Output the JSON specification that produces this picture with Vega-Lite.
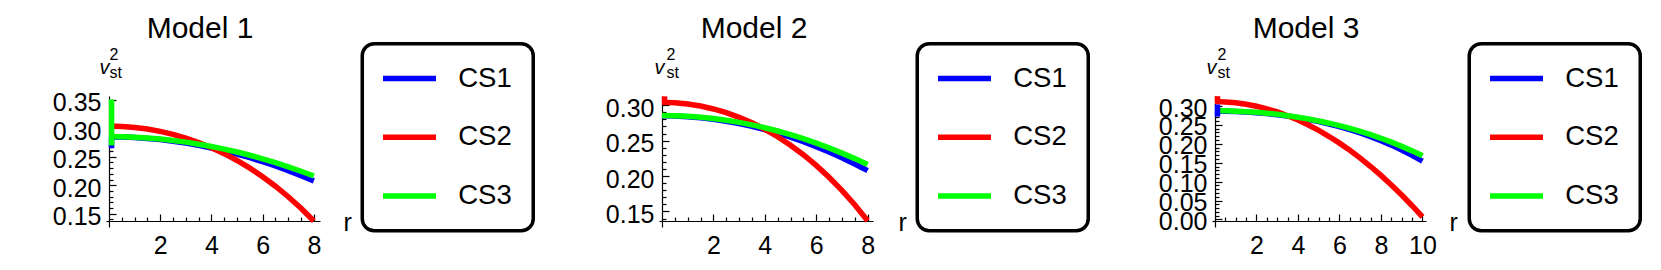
{
  "$schema": "https://vega.github.io/schema/vega-lite/v6.json",
  "background": "white",
  "padding": {"left": 52, "top": 14, "right": 5, "bottom": 5},
  "bounds": "flush",
  "spacing": 342,
  "datasets": {
    "m12": [
      {"series": "CS1", "r": 0, "v": 0.2850}, {"series": "CS1", "r": 0.5, "v": 0.2847}, {"series": "CS1", "r": 1, "v": 0.2838}, {"series": "CS1", "r": 1.5, "v": 0.2823}, {"series": "CS1", "r": 2, "v": 0.2802}, {"series": "CS1", "r": 2.5, "v": 0.2774}, {"series": "CS1", "r": 3, "v": 0.2741}, {"series": "CS1", "r": 3.5, "v": 0.2702}, {"series": "CS1", "r": 4, "v": 0.2656}, {"series": "CS1", "r": 4.5, "v": 0.2605}, {"series": "CS1", "r": 5, "v": 0.2548}, {"series": "CS1", "r": 5.5, "v": 0.2484}, {"series": "CS1", "r": 6, "v": 0.2414}, {"series": "CS1", "r": 6.5, "v": 0.2339}, {"series": "CS1", "r": 7, "v": 0.2257}, {"series": "CS1", "r": 7.5, "v": 0.2169}, {"series": "CS1", "r": 8, "v": 0.2076},
      {"series": "CS2", "r": 0, "v": 0.3040}, {"series": "CS2", "r": 0.5, "v": 0.3034}, {"series": "CS2", "r": 1, "v": 0.3017}, {"series": "CS2", "r": 1.5, "v": 0.2988}, {"series": "CS2", "r": 2, "v": 0.2947}, {"series": "CS2", "r": 2.5, "v": 0.2895}, {"series": "CS2", "r": 3, "v": 0.2829}, {"series": "CS2", "r": 3.5, "v": 0.2751}, {"series": "CS2", "r": 4, "v": 0.2660}, {"series": "CS2", "r": 4.5, "v": 0.2555}, {"series": "CS2", "r": 5, "v": 0.2435}, {"series": "CS2", "r": 5.5, "v": 0.2301}, {"series": "CS2", "r": 6, "v": 0.2150}, {"series": "CS2", "r": 6.5, "v": 0.1982}, {"series": "CS2", "r": 7, "v": 0.1797}, {"series": "CS2", "r": 7.5, "v": 0.1594}, {"series": "CS2", "r": 8, "v": 0.1370},
      {"series": "CS3", "r": 0, "v": 0.2855}, {"series": "CS3", "r": 0.5, "v": 0.2852}, {"series": "CS3", "r": 1, "v": 0.2844}, {"series": "CS3", "r": 1.5, "v": 0.2831}, {"series": "CS3", "r": 2, "v": 0.2812}, {"series": "CS3", "r": 2.5, "v": 0.2787}, {"series": "CS3", "r": 3, "v": 0.2758}, {"series": "CS3", "r": 3.5, "v": 0.2722}, {"series": "CS3", "r": 4, "v": 0.2682}, {"series": "CS3", "r": 4.5, "v": 0.2636}, {"series": "CS3", "r": 5, "v": 0.2584}, {"series": "CS3", "r": 5.5, "v": 0.2527}, {"series": "CS3", "r": 6, "v": 0.2465}, {"series": "CS3", "r": 6.5, "v": 0.2398}, {"series": "CS3", "r": 7, "v": 0.2324}, {"series": "CS3", "r": 7.5, "v": 0.2246}, {"series": "CS3", "r": 8, "v": 0.2162}
    ],
    "m3": [
      {"series": "CS1", "r": 0, "v": 0.2867}, {"series": "CS1", "r": 0.5, "v": 0.2864}, {"series": "CS1", "r": 1, "v": 0.2856}, {"series": "CS1", "r": 1.5, "v": 0.2843}, {"series": "CS1", "r": 2, "v": 0.2825}, {"series": "CS1", "r": 2.5, "v": 0.2800}, {"series": "CS1", "r": 3, "v": 0.2770}, {"series": "CS1", "r": 3.5, "v": 0.2734}, {"series": "CS1", "r": 4, "v": 0.2692}, {"series": "CS1", "r": 4.5, "v": 0.2643}, {"series": "CS1", "r": 5, "v": 0.2588}, {"series": "CS1", "r": 5.5, "v": 0.2525}, {"series": "CS1", "r": 6, "v": 0.2454}, {"series": "CS1", "r": 6.5, "v": 0.2375}, {"series": "CS1", "r": 7, "v": 0.2287}, {"series": "CS1", "r": 7.5, "v": 0.2190}, {"series": "CS1", "r": 8, "v": 0.2083}, {"series": "CS1", "r": 8.5, "v": 0.1966}, {"series": "CS1", "r": 9, "v": 0.1838}, {"series": "CS1", "r": 9.5, "v": 0.1697}, {"series": "CS1", "r": 10, "v": 0.1544},
      {"series": "CS2", "r": 0, "v": 0.3117}, {"series": "CS2", "r": 0.5, "v": 0.3109}, {"series": "CS2", "r": 1, "v": 0.3087}, {"series": "CS2", "r": 1.5, "v": 0.3048}, {"series": "CS2", "r": 2, "v": 0.2995}, {"series": "CS2", "r": 2.5, "v": 0.2926}, {"series": "CS2", "r": 3, "v": 0.2843}, {"series": "CS2", "r": 3.5, "v": 0.2743}, {"series": "CS2", "r": 4, "v": 0.2629}, {"series": "CS2", "r": 4.5, "v": 0.2499}, {"series": "CS2", "r": 5, "v": 0.2355}, {"series": "CS2", "r": 5.5, "v": 0.2194}, {"series": "CS2", "r": 6, "v": 0.2019}, {"series": "CS2", "r": 6.5, "v": 0.1829}, {"series": "CS2", "r": 7, "v": 0.1623}, {"series": "CS2", "r": 7.5, "v": 0.1401}, {"series": "CS2", "r": 8, "v": 0.1165}, {"series": "CS2", "r": 8.5, "v": 0.0913}, {"series": "CS2", "r": 9, "v": 0.0647}, {"series": "CS2", "r": 9.5, "v": 0.0364}, {"series": "CS2", "r": 10, "v": 0.0067},
      {"series": "CS3", "r": 0, "v": 0.2875}, {"series": "CS3", "r": 0.5, "v": 0.2872}, {"series": "CS3", "r": 1, "v": 0.2865}, {"series": "CS3", "r": 1.5, "v": 0.2851}, {"series": "CS3", "r": 2, "v": 0.2833}, {"series": "CS3", "r": 2.5, "v": 0.2809}, {"series": "CS3", "r": 3, "v": 0.2780}, {"series": "CS3", "r": 3.5, "v": 0.2745}, {"series": "CS3", "r": 4, "v": 0.2704}, {"series": "CS3", "r": 4.5, "v": 0.2657}, {"series": "CS3", "r": 5, "v": 0.2605}, {"series": "CS3", "r": 5.5, "v": 0.2546}, {"series": "CS3", "r": 6, "v": 0.2480}, {"series": "CS3", "r": 6.5, "v": 0.2408}, {"series": "CS3", "r": 7, "v": 0.2328}, {"series": "CS3", "r": 7.5, "v": 0.2241}, {"series": "CS3", "r": 8, "v": 0.2147}, {"series": "CS3", "r": 8.5, "v": 0.2044}, {"series": "CS3", "r": 9, "v": 0.1933}, {"series": "CS3", "r": 9.5, "v": 0.1814}, {"series": "CS3", "r": 10, "v": 0.1685}
    ],
    "a1": [
      {"series": "CS1", "r": 0.1, "v": 0.265, "v2": 0.283},
      {"series": "CS3", "r": 0.1, "v": 0.270, "v2": 0.351}
    ],
    "a2": [
      {"series": "CS2", "r": 0.1, "v": 0.304, "v2": 0.3125}
    ],
    "a3": [
      {"series": "CS1", "r": 0.12, "v": 0.272, "v2": 0.304},
      {"series": "CS2", "r": 0.12, "v": 0.3117, "v2": 0.326}
    ]
  },
  "hconcat": [
    {
      "width": 211, "height": 125,
      "title": {"text": "Model 1", "dx": -14.5, "dy": 6, "anchor": "middle"},
      "data": {"name": "m12"},
      "resolve": {"axis": {"y": "independent"}},
      "encoding": {
        "x": {"field": "r", "type": "quantitative",
          "scale": {"domain": [0, 8.24], "nice": false, "zero": false},
          "axis": {"values": [0,0.5,1,1.5,2,2.5,3,3.5,4,4.5,5,5.5,6,6.5,7,7.5,8],
            "labelExpr": "datum.value > 0 && datum.value % 2 == 0 ? format(datum.value, 'd') : ''",
            "tickSize": {"condition": [{"test": "datum.value == 0", "value": 6}, {"test": "datum.value % 2 == 0", "value": -7}], "value": -4},
            "labelPadding": 19,
            "title": "r", "titleX": 234, "titleY": 9, "titleAlign": "left", "titleBaseline": "alphabetic", "titleAngle": 0, "titleFontSize": 25}}
      },
      "layer": [
        {
          "mark": {"type": "line", "strokeWidth": 5.5},
          "encoding": {
            "y": {"field": "v", "type": "quantitative",
              "scale": {"domain": [0.137, 0.357], "nice": false, "zero": false},
              "axis": {"values": [0.137,0.14,0.15,0.16,0.17,0.18,0.19,0.2,0.21,0.22,0.23,0.24,0.25,0.26,0.27,0.28,0.29,0.3,0.31,0.32,0.33,0.34,0.35],
                "labelExpr": "abs(datum.value*20 - round(datum.value*20)) < 0.001 ? format(datum.value, '.2f') : ''",
                "tickSize": {"condition": [{"test": "datum.value < 0.1375", "value": 3}, {"test": "abs(datum.value*20 - round(datum.value*20)) < 0.001", "value": -7}], "value": -4},
                "labelPadding": 15, "labelOffset": 3,
                "title": "v", "titleX": -10, "titleY": -23, "titleAlign": "left", "titleBaseline": "alphabetic", "titleAngle": 0, "titleFontSize": 20, "titleFontStyle": "italic"}},
            "color": {"field": "series", "type": "nominal",
              "scale": {"domain": ["CS1", "CS2", "CS3"], "range": ["#0000ff", "#ff0000", "#00ff00"]},
              "legend": {"orient": "none", "legendX": 253.25, "legendY": -52.25}}
          }
        },
        {
          "data": {"name": "a1"},
          "mark": {"type": "rule", "strokeWidth": 5.5},
          "encoding": {
            "y": {"field": "v", "type": "quantitative", "scale": {"domain": [0.137, 0.357], "nice": false, "zero": false}, "axis": null},
            "y2": {"field": "v2"},
            "color": {"field": "series", "type": "nominal", "scale": {"domain": ["CS1", "CS2", "CS3"], "range": ["#0000ff", "#ff0000", "#00ff00"]}}
          }
        },
        {
          "mark": {"type": "point", "opacity": 0},
          "encoding": {
            "y": {"field": "v", "type": "quantitative",
              "scale": {"domain": [0.137, 0.357], "nice": false, "zero": false},
              "axis": {"orient": "right", "domain": false, "ticks": false, "labels": false,
                "title": ["2", "st"], "titleX": -211, "titleY": -36.5, "titleAlign": "left", "titleBaseline": "alphabetic", "titleAngle": 0, "titleFontSize": 16, "titleLineHeight": 18}}
          }
        }
      ]
    },
    {
      "width": 211, "height": 125,
      "title": {"text": "Model 2", "dx": -13.5, "dy": 6, "anchor": "middle"},
      "data": {"name": "m12"},
      "resolve": {"axis": {"y": "independent"}},
      "encoding": {
        "x": {"field": "r", "type": "quantitative",
          "scale": {"domain": [0, 8.21], "nice": false, "zero": false},
          "axis": {"values": [0,0.5,1,1.5,2,2.5,3,3.5,4,4.5,5,5.5,6,6.5,7,7.5,8],
            "labelExpr": "datum.value > 0 && datum.value % 2 == 0 ? format(datum.value, 'd') : ''",
            "tickSize": {"condition": [{"test": "datum.value == 0", "value": 6}, {"test": "datum.value % 2 == 0", "value": -7}], "value": -4},
            "labelPadding": 19,
            "title": "r", "titleX": 236, "titleY": 9, "titleAlign": "left", "titleBaseline": "alphabetic", "titleAngle": 0, "titleFontSize": 25}}
      },
      "layer": [
        {
          "mark": {"type": "line", "strokeWidth": 5.5},
          "encoding": {
            "y": {"field": "v", "type": "quantitative",
              "scale": {"domain": [0.1365, 0.313], "nice": false, "zero": false},
              "axis": {"values": [0.1365,0.14,0.15,0.16,0.17,0.18,0.19,0.2,0.21,0.22,0.23,0.24,0.25,0.26,0.27,0.28,0.29,0.3,0.31],
                "labelExpr": "abs(datum.value*20 - round(datum.value*20)) < 0.001 ? format(datum.value, '.2f') : ''",
                "tickSize": {"condition": [{"test": "datum.value < 0.137", "value": 3}, {"test": "abs(datum.value*20 - round(datum.value*20)) < 0.001", "value": -7}], "value": -4},
                "labelPadding": 15, "labelOffset": 3,
                "title": "v", "titleX": -8, "titleY": -23, "titleAlign": "left", "titleBaseline": "alphabetic", "titleAngle": 0, "titleFontSize": 20, "titleFontStyle": "italic"}},
            "color": {"field": "series", "type": "nominal",
              "scale": {"domain": ["CS1", "CS2", "CS3"], "range": ["#0000ff", "#ff0000", "#00ff00"]},
              "legend": {"orient": "none", "legendX": 255.25, "legendY": -52.25}}
          }
        },
        {
          "data": {"name": "a2"},
          "mark": {"type": "rule", "strokeWidth": 5.5},
          "encoding": {
            "y": {"field": "v", "type": "quantitative", "scale": {"domain": [0.1365, 0.313], "nice": false, "zero": false}, "axis": null},
            "y2": {"field": "v2"},
            "color": {"field": "series", "type": "nominal", "scale": {"domain": ["CS1", "CS2", "CS3"], "range": ["#0000ff", "#ff0000", "#00ff00"]}}
          }
        },
        {
          "mark": {"type": "point", "opacity": 0},
          "encoding": {
            "y": {"field": "v", "type": "quantitative",
              "scale": {"domain": [0.1365, 0.313], "nice": false, "zero": false},
              "axis": {"orient": "right", "domain": false, "ticks": false, "labels": false,
                "title": ["2", "st"], "titleX": -207, "titleY": -36.5, "titleAlign": "left", "titleBaseline": "alphabetic", "titleAngle": 0, "titleFontSize": 16, "titleLineHeight": 18}}
          }
        }
      ]
    },
    {
      "width": 211, "height": 125,
      "title": {"text": "Model 3", "dx": -14.5, "dy": 6, "anchor": "middle"},
      "data": {"name": "m3"},
      "resolve": {"axis": {"y": "independent"}},
      "encoding": {
        "x": {"field": "r", "type": "quantitative",
          "scale": {"domain": [0, 10.17], "nice": false, "zero": false},
          "axis": {"values": [0,0.5,1,1.5,2,2.5,3,3.5,4,4.5,5,5.5,6,6.5,7,7.5,8,8.5,9,9.5,10],
            "labelExpr": "datum.value > 0 && datum.value % 2 == 0 ? format(datum.value, 'd') : ''",
            "tickSize": {"condition": [{"test": "datum.value == 0", "value": 6}, {"test": "datum.value % 2 == 0", "value": -7}], "value": -4},
            "labelPadding": 19,
            "title": "r", "titleX": 234, "titleY": 9, "titleAlign": "left", "titleBaseline": "alphabetic", "titleAngle": 0, "titleFontSize": 25}}
      },
      "layer": [
        {
          "mark": {"type": "line", "strokeWidth": 5.5},
          "encoding": {
            "y": {"field": "v", "type": "quantitative",
              "scale": {"domain": [-0.004, 0.3265], "nice": false, "zero": false},
              "axis": {"values": [-0.004,0,0.01,0.02,0.03,0.04,0.05,0.06,0.07,0.08,0.09,0.1,0.11,0.12,0.13,0.14,0.15,0.16,0.17,0.18,0.19,0.2,0.21,0.22,0.23,0.24,0.25,0.26,0.27,0.28,0.29,0.3,0.31,0.32],
                "labelExpr": "datum.value >= 0 && abs(datum.value*20 - round(datum.value*20)) < 0.001 ? format(datum.value, '.2f') : ''",
                "tickSize": {"condition": [{"test": "datum.value < 0", "value": 3}, {"test": "abs(datum.value*20 - round(datum.value*20)) < 0.001", "value": -7}], "value": -4},
                "labelPadding": 15, "labelOffset": 2,
                "title": "v", "titleX": -9, "titleY": -23, "titleAlign": "left", "titleBaseline": "alphabetic", "titleAngle": 0, "titleFontSize": 20, "titleFontStyle": "italic"}},
            "color": {"field": "series", "type": "nominal",
              "scale": {"domain": ["CS1", "CS2", "CS3"], "range": ["#0000ff", "#ff0000", "#00ff00"]},
              "legend": {"orient": "none", "legendX": 254.25, "legendY": -52.25}}
          }
        },
        {
          "data": {"name": "a3"},
          "mark": {"type": "rule", "strokeWidth": 5.5},
          "encoding": {
            "y": {"field": "v", "type": "quantitative", "scale": {"domain": [-0.004, 0.3265], "nice": false, "zero": false}, "axis": null},
            "y2": {"field": "v2"},
            "color": {"field": "series", "type": "nominal", "scale": {"domain": ["CS1", "CS2", "CS3"], "range": ["#0000ff", "#ff0000", "#00ff00"]}}
          }
        },
        {
          "mark": {"type": "point", "opacity": 0},
          "encoding": {
            "y": {"field": "v", "type": "quantitative",
              "scale": {"domain": [-0.004, 0.3265], "nice": false, "zero": false},
              "axis": {"orient": "right", "domain": false, "ticks": false, "labels": false,
                "title": ["2", "st"], "titleX": -209, "titleY": -36.5, "titleAlign": "left", "titleBaseline": "alphabetic", "titleAngle": 0, "titleFontSize": 16, "titleLineHeight": 18}}
          }
        }
      ]
    }
  ],
  "resolve": {"scale": {"color": "independent"}, "legend": {"color": "independent"}},
  "config": {
    "view": {"stroke": null},
    "font": "Liberation Sans",
    "axis": {
      "grid": false, "domainColor": "black", "tickColor": "black", "labelColor": "black", "titleColor": "black",
      "domainWidth": 1.2, "tickWidth": 1.2, "labelFont": "Liberation Sans", "titleFont": "Liberation Sans",
      "labelFontSize": 25, "labelOverlap": false, "labelFlush": false, "titleFontWeight": "normal", "titlePadding": 0
    },
    "legend": {
      "title": null,
      "strokeColor": "black", "strokeWidth": 3.5, "cornerRadius": 12, "padding": 21,
      "symbolType": "M0,0H10.6", "symbolSize": 100, "symbolStrokeWidth": 5.5, "symbolOffset": -14,
      "labelOffset": 61.5, "rowPadding": 29.75, "labelFont": "Liberation Sans", "labelFontSize": 27.5, "labelColor": "black"
    },
    "title": {"font": "Liberation Sans", "fontSize": 30, "fontWeight": "normal", "color": "black", "anchor": "middle"}
  }
}
